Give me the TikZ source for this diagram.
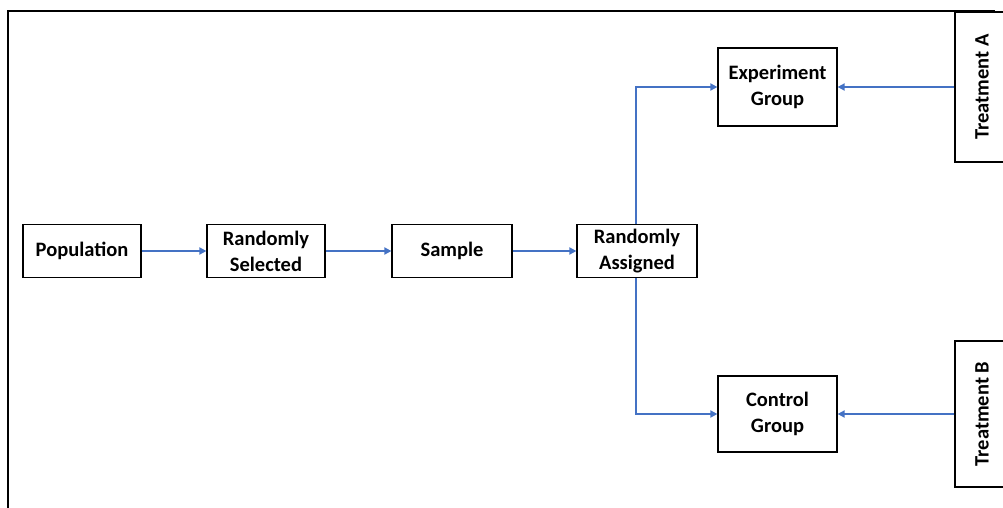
\documentclass[tikz,border=0pt]{standalone}
\usepackage{fontspec}
\setmainfont{Carlito}
\usetikzlibrary{arrows.meta}
\definecolor{arrowblue}{HTML}{4472C4}
\tikzset{
  lbl/.style={font=\bfseries\fontsize{20.5}{26}\selectfont},
  box/.style={draw=black, line width=1.2pt, fill=white, align=center, lbl, inner sep=0pt},
  conn/.style={draw=arrowblue, line width=1.8pt, -{Triangle[length=7pt,width=7pt]}},
}
\begin{document}
\begin{tikzpicture}[x=1pt,y=-1pt]
\useasboundingbox (0,0) rectangle (1003,507);
\begin{scope}
\clip (0,0) rectangle (1003,507);
% frame
\draw[line width=2pt] (8,520) -- (8,11) -- (995,11);
% boxes
\node[box, minimum width=118pt, minimum height=53pt] (pop) at (82,251) {Population};
\node[box, minimum width=118pt, minimum height=53pt] (rs) at (266,251) {Randomly\\Selected};
\node[box, minimum width=120pt, minimum height=53pt] (sam) at (452,251) {Sample};
\node[box, minimum width=120pt, minimum height=53pt] (ra) at (637,251) {Randomly\\Assigned};
\node[box, minimum width=119pt, minimum height=78pt] (eg) at (777.5,87) {Experiment\\Group};
\node[box, minimum width=119pt, minimum height=76pt] (cg) at (777.5,414) {Control\\Group};
\node[box, minimum width=80pt, minimum height=150pt] (ta) at (995,87) {};
\node[box, minimum width=80pt, minimum height=146pt] (tb) at (995,414) {};
\node[lbl, rotate=90] (tat) at (982,87) {Treatment A};
\node[lbl, rotate=90] (tbt) at (982,414) {Treatment B};
% connectors
\draw[conn] (pop) -- (rs);
\draw[conn] (rs) -- (sam);
\draw[conn] (sam) -- (ra);
\draw[conn] (ra.north -| 636,0) -- (636,87) -- (eg.west);
\draw[conn] (ra.south -| 636,0) -- (636,414) -- (cg.west);
\draw[conn] (ta.west) -- (eg.east);
\draw[conn] (tb.west) -- (cg.east);
\end{scope}
\end{tikzpicture}
\end{document}
